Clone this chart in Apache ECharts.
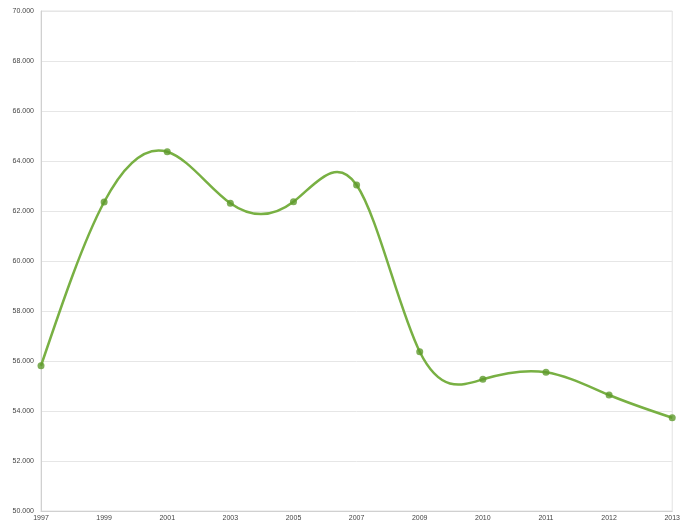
<!DOCTYPE html>
<html>
<head>
<meta charset="utf-8">
<script src="https://cdn.jsdelivr.net/npm/echarts@6/dist/echarts.min.js"></script>
<style>html,body{margin:0;padding:0;background:#fff;}#c{width:683px;height:524px;}</style>
</head>
<body>
<div id="c"></div>
<script>
var categories = ['1997','1999','2001','2003','2005','2007','2009','2010','2011','2012','2013'];
var values = [55.81, 62.36, 64.37, 62.31, 62.37, 63.04, 56.37, 55.27, 55.55, 54.64, 53.73];

// natural cubic spline through pixel points, drawn as exact bezier segments
function splinePath(pts) {
  var n = pts.length - 1;
  var h = pts[1][0] - pts[0][0];
  var M = new Array(n + 1).fill(0);
  // tridiagonal solve for interior second derivatives
  var a = [], b = [], c = [], d = [];
  for (var i = 1; i < n; i++) {
    a.push(1); b.push(4); c.push(1);
    d.push(6 * (pts[i + 1][1] - 2 * pts[i][1] + pts[i - 1][1]) / (h * h));
  }
  var m = d.length;
  for (var k = 1; k < m; k++) {
    var w = a[k] / b[k - 1];
    b[k] -= w * c[k - 1];
    d[k] -= w * d[k - 1];
  }
  var sol = new Array(m);
  sol[m - 1] = d[m - 1] / b[m - 1];
  for (k = m - 2; k >= 0; k--) sol[k] = (d[k] - c[k] * sol[k + 1]) / b[k];
  for (i = 1; i < n; i++) M[i] = sol[i - 1];
  var slope = [];
  for (i = 0; i < n; i++) slope.push((pts[i + 1][1] - pts[i][1]) / h - h * (2 * M[i] + M[i + 1]) / 6);
  slope.push((pts[n][1] - pts[n - 1][1]) / h + h * (M[n - 1] + 2 * M[n]) / 6);
  var s = 'M' + pts[0][0] + ' ' + pts[0][1];
  for (i = 0; i < n; i++) {
    var hh = pts[i + 1][0] - pts[i][0];
    s += ' C' + (pts[i][0] + hh / 3) + ' ' + (pts[i][1] + slope[i] * hh / 3) + ' ' +
         (pts[i + 1][0] - hh / 3) + ' ' + (pts[i + 1][1] - slope[i + 1] * hh / 3) + ' ' +
         pts[i + 1][0] + ' ' + pts[i + 1][1];
  }
  return s;
}

var chart = echarts.init(document.getElementById('c'));
chart.setOption({
  animation: false,
  backgroundColor: '#ffffff',
  grid: {left: 41, right: 8, top: 11, bottom: 13, show: true, borderColor: '#e2e2e2', borderWidth: 1},
  xAxis: {
    type: 'category', data: categories, boundaryGap: false,
    axisLine: {show: true, lineStyle: {color: '#d0d0d0'}},
    axisTick: {show: false},
    axisLabel: {fontSize: 7, color: '#444', margin: 4, fontFamily: 'Liberation Sans', interval: 0},
    splitLine: {show: false}
  },
  yAxis: {
    type: 'value', min: 50, max: 70, interval: 2,
    axisLine: {show: true, lineStyle: {color: '#d0d0d0'}},
    axisTick: {show: false},
    axisLabel: {fontSize: 7, color: '#444', margin: 7, fontFamily: 'Liberation Sans',
      formatter: function(v){ return v.toFixed(3); }},
    splitLine: {lineStyle: {color: '#e6e6e6'}}
  },
  series: [{
    type: 'custom',
    data: values.map(function(v, i){ return [i, v]; }),
    encode: {x: 0, y: 1},
    renderItem: function(params, api) {
      if (params.dataIndex !== 0) return null;
      var pts = values.map(function(v, i){ return api.coord([i, v]); });
      return {
        type: 'path',
        shape: {pathData: splinePath(pts)},
        style: {fill: null, stroke: '#78b043', lineWidth: 2.5}
      };
    },
    z: 2
  }, {
    type: 'scatter', data: values,
    symbol: 'circle', symbolSize: 7,
    itemStyle: {color: '#5e9a2c'},
    z: 3
  }]
});
</script>
</body>
</html>
